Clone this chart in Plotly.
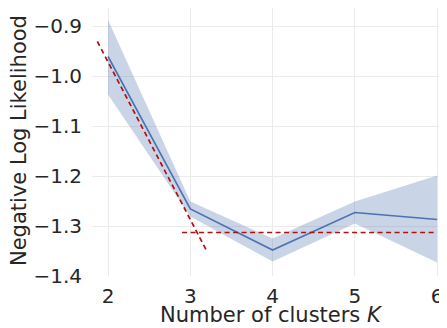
import plotly.graph_objects as go

K = [2, 3, 4, 5, 6]
nll_mean = [-0.961, -1.266, -1.348, -1.273, -1.287]
nll_upper = [-0.888, -1.251, -1.325, -1.251, -1.199]
nll_lower = [-1.037, -1.281, -1.371, -1.295, -1.373]

# elbow guide lines (dashed)
steep_x = [1.87, 3.19]
steep_y = [-0.931, -1.347]
flat_x = [2.9, 6.0]
flat_y = [-1.313, -1.313]

y_ticks = [-1.4, -1.3, -1.2, -1.1, -1.0, -0.9]

blue = "#4c72b0"
red = "#b01010"

fig = go.Figure()
fig.add_trace(go.Scatter(x=K, y=nll_upper, mode="lines", line=dict(width=0),
                         showlegend=False, hoverinfo="skip"))
fig.add_trace(go.Scatter(x=K, y=nll_lower, mode="lines", line=dict(width=0),
                         fill="tonexty", fillcolor="rgba(76,114,176,0.3)",
                         showlegend=False, hoverinfo="skip"))
fig.add_trace(go.Scatter(x=K, y=nll_mean, mode="lines",
                         line=dict(color=blue, width=1.6), showlegend=False))
fig.add_trace(go.Scatter(x=steep_x, y=steep_y, mode="lines",
                         line=dict(color=red, width=1.7, dash="5px,3.5px"), showlegend=False))
fig.add_trace(go.Scatter(x=flat_x, y=flat_y, mode="lines",
                         line=dict(color=red, width=1.7, dash="5px,3.5px"), showlegend=False))

font = dict(family="DejaVu Sans", color="#262626")
fig.update_layout(
    width=439, height=320,
    margin=dict(l=84, r=0, t=0, b=52),
    paper_bgcolor="white", plot_bgcolor="white",
    font=dict(**font, size=20),
    xaxis=dict(range=[1.805, 6.12], tickvals=K, showgrid=True, gridcolor="#ebebeb",
               gridwidth=1, zeroline=False, showline=False, automargin=False,
               tickfont=dict(size=20), ticklabelstandoff=6, ticklabeloverflow="allow"),
    yaxis=dict(range=[-1.4, -0.864], tickvals=y_ticks, tickformat=".1f",
               showgrid=True, gridcolor="#ebebeb", gridwidth=1,
               zeroline=False, showline=False, automargin=False,
               tickfont=dict(size=20), ticklabelstandoff=9, ticklabeloverflow="allow"),
    annotations=[
        dict(text="Number of clusters <i>K</i>", xref="paper", yref="paper",
             x=0.5056, y=-0.1455, xanchor="center", yanchor="middle",
             showarrow=False, font=dict(size=21)),
        dict(text="Negative Log Likelihood", xref="paper", yref="paper",
             x=-0.2056, y=0.5037, xanchor="center", yanchor="middle", textangle=-90,
             showarrow=False, font=dict(size=21)),
    ],
)
fig.write_html("out.html")
